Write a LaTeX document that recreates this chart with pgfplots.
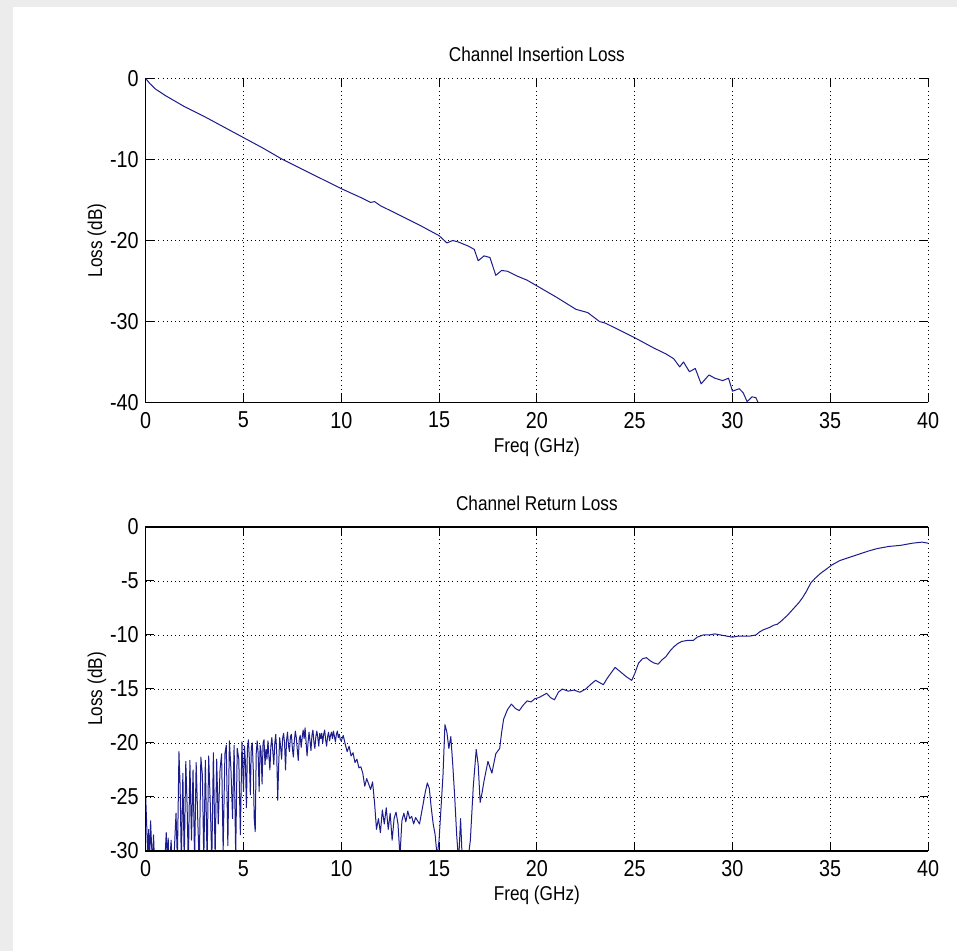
\documentclass[border=0pt]{standalone}
\usepackage{fontspec}
\setmainfont{Liberation Sans}[FakeStretch=0.86]
\usepackage{pgfplots}
\pgfplotsset{compat=1.18}
\definecolor{lineblue}{RGB}{28,28,140}
\definecolor{bggray}{RGB}{236,236,236}

\pgfplotstableread{
f v
0 0
0.2 -0.6
0.5 -1.3
1 -2.1
1.5 -2.8
2 -3.5
2.5 -4.1
3 -4.7
4 -6.0
5 -7.3
6 -8.6
7 -10.0
8 -11.2
9 -12.4
10 -13.6
11 -14.7
11.5 -15.3
11.7 -15.2
12 -15.7
13 -16.9
14 -18.1
15 -19.4
15.4 -20.3
15.7 -20.0
16 -20.2
16.5 -20.7
16.8 -21.1
17.0 -22.5
17.3 -21.9
17.6 -22.1
17.9 -24.3
18.2 -23.7
18.5 -23.8
19 -24.4
19.5 -24.9
20 -25.6
21 -27.0
22 -28.5
22.6 -28.9
23.2 -30.0
23.5 -30.2
24 -30.8
25 -32.0
26 -33.3
26.6 -34.0
27.0 -34.6
27.3 -35.6
27.5 -35.0
27.8 -36.2
28.1 -35.8
28.4 -37.7
28.8 -36.6
29.1 -37.0
29.5 -37.3
29.8 -37.0
30.0 -38.6
30.35 -38.3
30.55 -38.8
30.75 -39.9
31.0 -39.3
31.2 -39.4
31.4 -40.5
31.6 -41.5
}\insertionloss

\pgfplotstableread{
f v
0.00 -25.0
0.05 -27.5
0.10 -30.5
0.15 -28.0
0.20 -31.0
0.25 -27.2
0.30 -29.5
0.35 -31.0
0.40 -28.5
0.45 -31.0
0.55 -32.0
0.65 -31.0
0.75 -32.0
0.85 -30.5
0.95 -32.0
1.05 -28.3
1.10 -31.0
1.15 -28.8
1.20 -32.0
1.30 -29.0
1.35 -31.5
1.45 -30.5
1.55 -26.5
1.62 -31.0
1.70 -20.8
1.76 -24.0
1.82 -31.0
1.90 -22.8
1.97 -31.0
2.05 -21.7
2.12 -26.0
2.18 -31.5
2.26 -21.6
2.34 -29.0
2.42 -22.5
2.50 -31.0
2.58 -21.8
2.66 -27.0
2.74 -31.5
2.82 -21.3
2.90 -23.0
2.97 -31.0
3.05 -21.6
3.14 -31.0
3.22 -21.2
3.30 -25.5
3.38 -31.0
3.46 -20.9
3.55 -30.5
3.63 -21.5
3.71 -27.5
3.80 -22.5
3.88 -21.0
3.96 -30.0
4.05 -21.0
4.12 -20.2
4.20 -29.5
4.28 -19.8
4.36 -22.5
4.44 -27.0
4.52 -20.2
4.60 -30.5
4.68 -20.5
4.76 -21.5
4.84 -28.5
4.92 -19.9
5.00 -24.5
5.05 -20.3
5.10 -21.8
5.15 -26.0
5.20 -20.5
5.25 -19.7
5.30 -21.5
5.35 -24.8
5.40 -20.4
5.45 -20.0
5.50 -22.5
5.55 -27.0
5.60 -28.2
5.65 -21.0
5.70 -19.8
5.75 -21.0
5.80 -24.5
5.85 -20.2
5.90 -20.8
5.95 -23.8
6.00 -20.0
6.05 -19.7
6.10 -22.0
6.15 -20.6
6.20 -21.5
6.25 -19.8
6.30 -21.2
6.35 -22.5
6.40 -20.3
6.45 -19.5
6.50 -20.8
6.55 -22.0
6.60 -20.0
6.65 -19.2
6.70 -21.0
6.75 -25.3
6.80 -22.0
6.85 -19.5
6.90 -20.4
6.95 -21.5
7.00 -19.6
7.05 -19.1
7.10 -20.0
7.15 -22.5
7.20 -19.8
7.25 -19.0
7.30 -20.2
7.35 -20.8
7.40 -19.4
7.45 -19.2
7.50 -20.5
7.55 -21.3
7.60 -19.8
7.65 -18.9
7.70 -19.5
7.75 -20.6
7.80 -21.6
7.85 -19.7
7.90 -19.3
7.95 -20.4
8.00 -19.5
8.05 -18.8
8.10 -19.6
8.15 -18.6
8.20 -19.9
8.25 -21.2
8.30 -20.0
8.35 -19.0
8.40 -19.8
8.45 -20.7
8.50 -19.3
8.55 -18.8
8.60 -19.9
8.65 -20.5
8.70 -19.4
8.75 -18.9
8.80 -19.5
8.85 -20.3
8.90 -19.1
8.95 -19.6
9.00 -19.1
9.05 -20.0
9.10 -19.2
9.15 -18.8
9.20 -19.7
9.25 -20.3
9.30 -19.4
9.35 -19.0
9.40 -19.8
9.45 -19.3
9.50 -19.0
9.55 -19.6
9.60 -18.9
9.65 -19.4
9.70 -19.9
9.75 -19.2
9.80 -18.9
9.85 -19.5
9.90 -19.2
9.95 -19.7
10.00 -19.8
10.1 -19.3
10.2 -20.1
10.3 -20.8
10.4 -20.3
10.5 -21.2
10.6 -20.9
10.7 -21.8
10.8 -21.5
10.9 -22.3
11.0 -22.2
11.1 -22.8
11.2 -24.0
11.3 -23.3
11.4 -23.8
11.5 -24.3
11.6 -23.6
11.7 -25.5
11.8 -28.0
11.9 -27.0
12.0 -28.3
12.1 -26.2
12.2 -27.5
12.3 -26.0
12.4 -28.0
12.5 -26.5
12.6 -29.0
12.7 -27.0
12.8 -26.4
12.9 -27.5
13.0 -30.5
13.1 -27.2
13.2 -26.5
13.3 -27.3
13.4 -26.3
13.5 -27.0
13.6 -26.8
13.7 -27.5
13.8 -26.9
13.9 -27.2
14.0 -27.5
14.1 -26.5
14.2 -25.5
14.3 -24.5
14.4 -23.7
14.5 -24.2
14.6 -26.0
14.7 -27.5
14.8 -28.5
14.9 -30.5
15.0 -29.0
15.1 -26.0
15.2 -23.0
15.3 -18.3
15.4 -19.0
15.5 -20.5
15.6 -19.4
15.7 -22.0
15.8 -25.0
15.9 -28.5
16.0 -31.0
16.1 -27.0
16.2 -31.5
16.4 -32.0
16.6 -29.0
16.75 -24.0
16.9 -20.6
17.0 -22.0
17.1 -25.5
17.2 -24.6
17.3 -23.5
17.5 -21.7
17.7 -22.8
17.9 -21.0
18.1 -20.5
18.2 -19.0
18.3 -17.8
18.5 -16.9
18.7 -16.4
18.9 -16.8
19.1 -17.0
19.3 -16.5
19.5 -16.1
19.7 -16.2
19.9 -15.9
20.1 -15.8
20.3 -15.6
20.5 -15.4
20.7 -15.8
20.9 -16.0
21.1 -15.3
21.3 -15.0
21.6 -15.2
21.9 -15.1
22.2 -15.3
22.5 -15.0
22.8 -14.5
23.0 -14.2
23.2 -14.4
23.4 -14.6
23.6 -14.0
23.8 -13.5
24.0 -13.0
24.2 -13.3
24.4 -13.6
24.6 -13.9
24.85 -14.2
25.0 -13.6
25.2 -12.6
25.4 -12.2
25.6 -12.1
25.8 -12.4
26.0 -12.6
26.2 -12.7
26.4 -12.3
26.6 -12.0
26.8 -11.5
27.0 -11.1
27.2 -10.8
27.4 -10.6
27.7 -10.5
28.0 -10.5
28.2 -10.2
28.5 -10.0
28.8 -10.0
29.1 -9.9
29.4 -10.0
29.7 -10.1
30.0 -10.2
30.3 -10.1
30.6 -10.1
30.9 -10.1
31.2 -10.0
31.4 -9.7
31.6 -9.5
31.9 -9.3
32.1 -9.1
32.3 -9.0
32.5 -8.7
32.8 -8.2
33.0 -7.8
33.2 -7.4
33.4 -7.0
33.6 -6.5
33.8 -5.9
34.0 -5.2
34.2 -4.8
34.5 -4.3
34.8 -3.9
35.1 -3.5
35.5 -3.1
36.0 -2.8
36.5 -2.5
37.0 -2.2
37.4 -2.0
38.0 -1.8
38.6 -1.7
39.2 -1.5
39.7 -1.4
40.0 -1.5
}\returnloss

\pgfplotsset{mlstyle/.style={
  scale only axis, width=391.15pt, height=162pt,
  xmin=0, xmax=40, xtick={0,5,...,40},
  grid=major,
  major grid style={black, line width=0.4pt, dash pattern=on 0.5pt off 1.6pt},
  tick align=inside, major tick length=4pt,
  tick style={black, line width=0.5pt},
  axis line style={draw=none},
  clip mode=individual,
  /pgf/number format/assume math mode=true,
  tick label style={font=\fontsize{11.5pt}{13.5pt}\selectfont},
  label style={font=\fontsize{11.5pt}{13.5pt}\selectfont},
  title style={font=\fontsize{11.5pt}{13.5pt}\selectfont},
  xticklabel style={yshift=-1.2pt},
  every axis title/.style={at={(axis description cs:0.5,1.074)}, anchor=center},
  every axis x label/.style={at={(axis description cs:0.5,-0.138)}, anchor=center},
  every axis y label/.style={at={(axis description cs:-0.0623,0.5)}, anchor=center, rotate=90},
  xlabel={Freq (GHz)}, ylabel={Loss (dB)},
}}

\begin{document}
\begin{tikzpicture}
\fill[bggray] (0pt,0pt) rectangle (478.5pt,475.5pt);
\fill[white] (6.5pt,0pt) rectangle (478.5pt,472pt);

\begin{axis}[mlstyle, at={(72.85pt,274.25pt)}, anchor=south west,
  ymin=-40, ymax=0, ytick={-40,-30,...,0},
  title={Channel Insertion Loss}]
\addplot[lineblue, line width=0.5pt, mark=none, line join=round] table[x=f,y=v] {\insertionloss};
\draw[black, line width=0.6pt] (rel axis cs:0,1) -- (rel axis cs:0,0) -- (rel axis cs:1,0);
\end{axis}

\begin{axis}[mlstyle, at={(72.85pt,50pt)}, anchor=south west,
  ymin=-30, ymax=0, ytick={-30,-25,...,0},
  title={Channel Return Loss}]
\addplot[lineblue, line width=0.5pt, mark=none, line join=round] table[x=f,y=v] {\returnloss};
\draw[black, line width=0.6pt] (rel axis cs:1,1) -- (rel axis cs:0,1) -- (rel axis cs:0,0) -- (rel axis cs:1,0);
\end{axis}
\end{tikzpicture}
\end{document}
